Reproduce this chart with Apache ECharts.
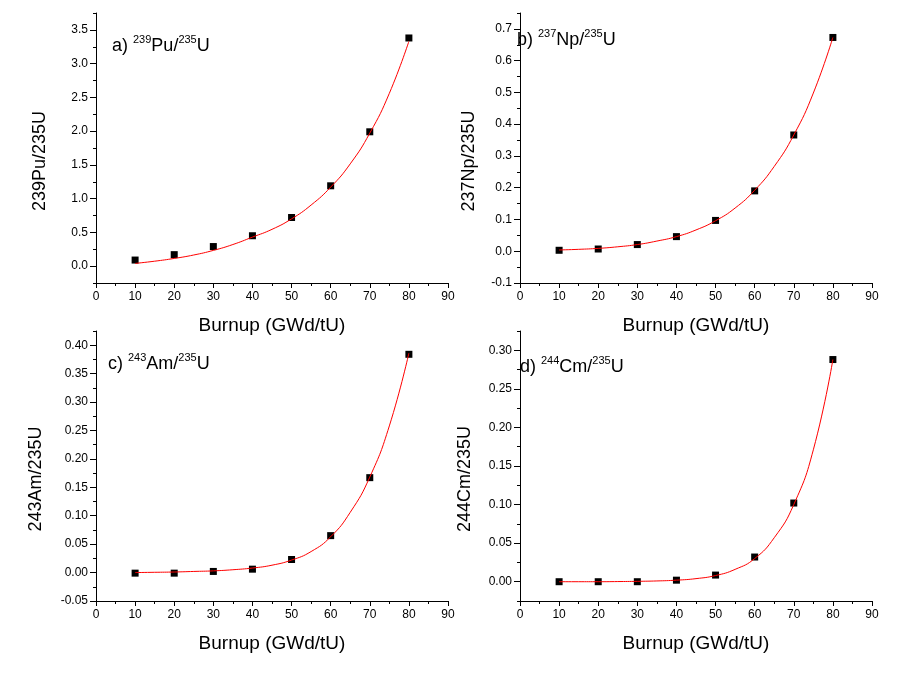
<!DOCTYPE html>
<html>
<head>
<meta charset="utf-8">
<script src="https://cdn.jsdelivr.net/npm/echarts@6/dist/echarts.min.js"></script>
<style>
  html, body { margin: 0; padding: 0; background: #fff; }
  #show { width: 908px; height: 677px; }
</style>
</head>
<body>
<div id="show"></div>
<script>
// burnup points (GWd/tU)
var burnup = [10, 20, 30, 40, 50, 60, 70, 80];
var fitBurnup = [10, 15, 20, 25, 30, 35, 40, 45, 50, 55, 60, 65, 70, 75, 80];

// measured ratios
var pu239 = [0.09, 0.17, 0.29, 0.45, 0.72, 1.19, 1.99, 3.38];
var np237 = [0.003, 0.007, 0.021, 0.046, 0.097, 0.19, 0.366, 0.673];
var am243 = [-0.001, -0.001, 0.002, 0.006, 0.023, 0.065, 0.167, 0.384];
var cm244 = [0.000, 0.000, 0.000, 0.002, 0.0086, 0.032, 0.102, 0.288];

// fit curves
var pu239Fit = [0.04, 0.073, 0.114, 0.165, 0.233, 0.32, 0.43, 0.545, 0.70, 0.905, 1.17, 1.515, 1.97, 2.56, 3.33];
var np237Fit = [0.004, 0.006, 0.009, 0.014, 0.021, 0.032, 0.046, 0.067, 0.096, 0.136, 0.192, 0.267, 0.366, 0.498, 0.673];
var am243Fit = [0.000, 0.0005, 0.001, 0.002, 0.003, 0.005, 0.008, 0.013, 0.022, 0.037, 0.063, 0.106, 0.168, 0.258, 0.386];
var cm244Fit = [0.000, 0.000, 0.000, 0.0002, 0.0005, 0.001, 0.002, 0.004, 0.008, 0.016, 0.030, 0.057, 0.100, 0.171, 0.288];

// y tick labels of each panel
var puTicks = [0, 0.5, 1.0, 1.5, 2.0, 2.5, 3.0, 3.5];
var npTicks = [-0.1, 0, 0.1, 0.2, 0.3, 0.4, 0.5, 0.6, 0.7];
var amTicks = [-0.05, 0, 0.05, 0.10, 0.15, 0.20, 0.25, 0.30, 0.35, 0.40];
var cmTicks = [0, 0.05, 0.10, 0.15, 0.20, 0.25, 0.30];
var puMinor = [-0.25, 0.25, 0.75, 1.25, 1.75, 2.25, 2.75, 3.25, 3.75];
var npMinor = [-0.05, 0.05, 0.15, 0.25, 0.35, 0.45, 0.55, 0.65, 0.75];
var amMinor = [-0.025, 0.025, 0.075, 0.125, 0.175, 0.225, 0.275, 0.325, 0.375, 0.425];
var cmMinor = [-0.025, 0.025, 0.075, 0.125, 0.175, 0.225, 0.275, 0.325];

var font = '"Liberation Sans", Arial, sans-serif';

var panels = [
    {name: '239Pu/235U', iso: '239', el: 'Pu', tag: 'a)', pts: pu239, fit: pu239Fit,
     min: -0.25, max: 3.75, ticks: puTicks, minor: puMinor, dec: 1,
     left: 96, top: 13, gap: 47, tLeft: 112, tTop: 34},
    {name: '237Np/235U', iso: '237', el: 'Np', tag: 'b)', pts: np237, fit: np237Fit,
     min: -0.1, max: 0.75, ticks: npTicks, minor: npMinor, dec: 1,
     left: 520, top: 13, gap: 42, tLeft: 517, tTop: 28},
    {name: '243Am/235U', iso: '243', el: 'Am', tag: 'c)', pts: am243, fit: am243Fit,
     min: -0.05, max: 0.425, ticks: amTicks, minor: amMinor, dec: 2,
     left: 96, top: 331, gap: 51, tLeft: 108, tTop: 352},
    {name: '244Cm/235U', iso: '244', el: 'Cm', tag: 'd)', pts: cm244, fit: cm244Fit,
     min: -0.025, max: 0.325, ticks: cmTicks, minor: cmMinor, dec: 2,
     left: 520, top: 331, gap: 46, tLeft: 520, tTop: 355}
];

var option = {
    backgroundColor: '#fff',
    animation: false,
    title: [],
    grid: [],
    xAxis: [],
    yAxis: [],
    series: []
};

var minorY = [];
for (var i = 0; i < panels.length; i++) {
    var p = panels[i];
    option.grid.push({left: p.left, top: p.top, width: 352, height: 270});

    option.title.push({
        left: p.tLeft, top: p.tTop, padding: 0, z: 10,
        text: p.tag + ' {s|' + p.iso + '}' + p.el + '/{s|235}U',
        textStyle: {
            fontFamily: font, fontSize: 18, fontWeight: 'normal', color: '#000',
            lineHeight: 24, verticalAlign: 'bottom',
            rich: {
                s: {fontFamily: font, fontSize: 11, color: '#000', lineHeight: 11, verticalAlign: 'top'}
            }
        }
    });

    option.xAxis.push({
        type: 'value', gridIndex: i, min: 0, max: 90, interval: 10,
        name: 'Burnup (GWd/tU)', nameLocation: 'middle', nameGap: 33,
        nameTextStyle: {fontFamily: font, fontSize: 19, color: '#000'},
        axisLine: {show: true, onZero: false, lineStyle: {color: '#000', width: 1}},
        axisTick: {show: true, length: 5, lineStyle: {color: '#000'}},
        minorTick: {show: true, splitNumber: 2, length: 3, lineStyle: {color: '#000'}},
        axisLabel: {fontFamily: font, fontSize: 12, color: '#000', margin: 8},
        splitLine: {show: false}
    });

    (function (dec) {
        option.yAxis.push({
            type: 'value', gridIndex: i, position: 'left', min: p.min, max: p.max,
            name: p.name, nameLocation: 'middle', nameGap: p.gap,
            // right padding pushes the rotated name a bit downwards like the original
            nameTextStyle: {fontFamily: font, fontSize: 18, color: '#000', padding: [0, 26, 0, 0]},
            axisLine: {show: true, onZero: false, lineStyle: {color: '#000', width: 1}},
            axisTick: {show: true, length: 6, customValues: p.ticks, lineStyle: {color: '#000'}},
            axisLabel: {
                fontFamily: font, fontSize: 12, color: '#000', margin: 8,
                customValues: p.ticks,
                formatter: function (v) { return v.toFixed(dec); }
            },
            splitLine: {show: false}
        });
    })(p.dec);

    // second axis only for the short minor ticks
    minorY.push({
        type: 'value', gridIndex: i, position: 'left', offset: 0, min: p.min, max: p.max,
        axisLine: {show: false},
        axisTick: {show: true, length: 3, customValues: p.minor, lineStyle: {color: '#000'}},
        axisLabel: {show: false},
        splitLine: {show: false}
    });

    var pts = [];
    for (var j = 0; j < burnup.length; j++) pts.push([burnup[j], p.pts[j]]);
    var fit = [];
    for (var k = 0; k < fitBurnup.length; k++) fit.push([fitBurnup[k], p.fit[k]]);

    option.series.push({
        type: 'scatter', xAxisIndex: i, yAxisIndex: i, data: pts,
        symbol: 'rect', symbolSize: 7, itemStyle: {color: '#000', opacity: 1}, z: 2
    });
    option.series.push({
        type: 'line', xAxisIndex: i, yAxisIndex: i, data: fit,
        smooth: 0.5, showSymbol: false,
        lineStyle: {color: '#ff0000', width: 1}, z: 3
    });
}
option.yAxis = option.yAxis.concat(minorY);

var myChart = echarts.init(document.getElementById('show'), null, {renderer: 'canvas'});
myChart.setOption(option);
</script>
</body>
</html>
